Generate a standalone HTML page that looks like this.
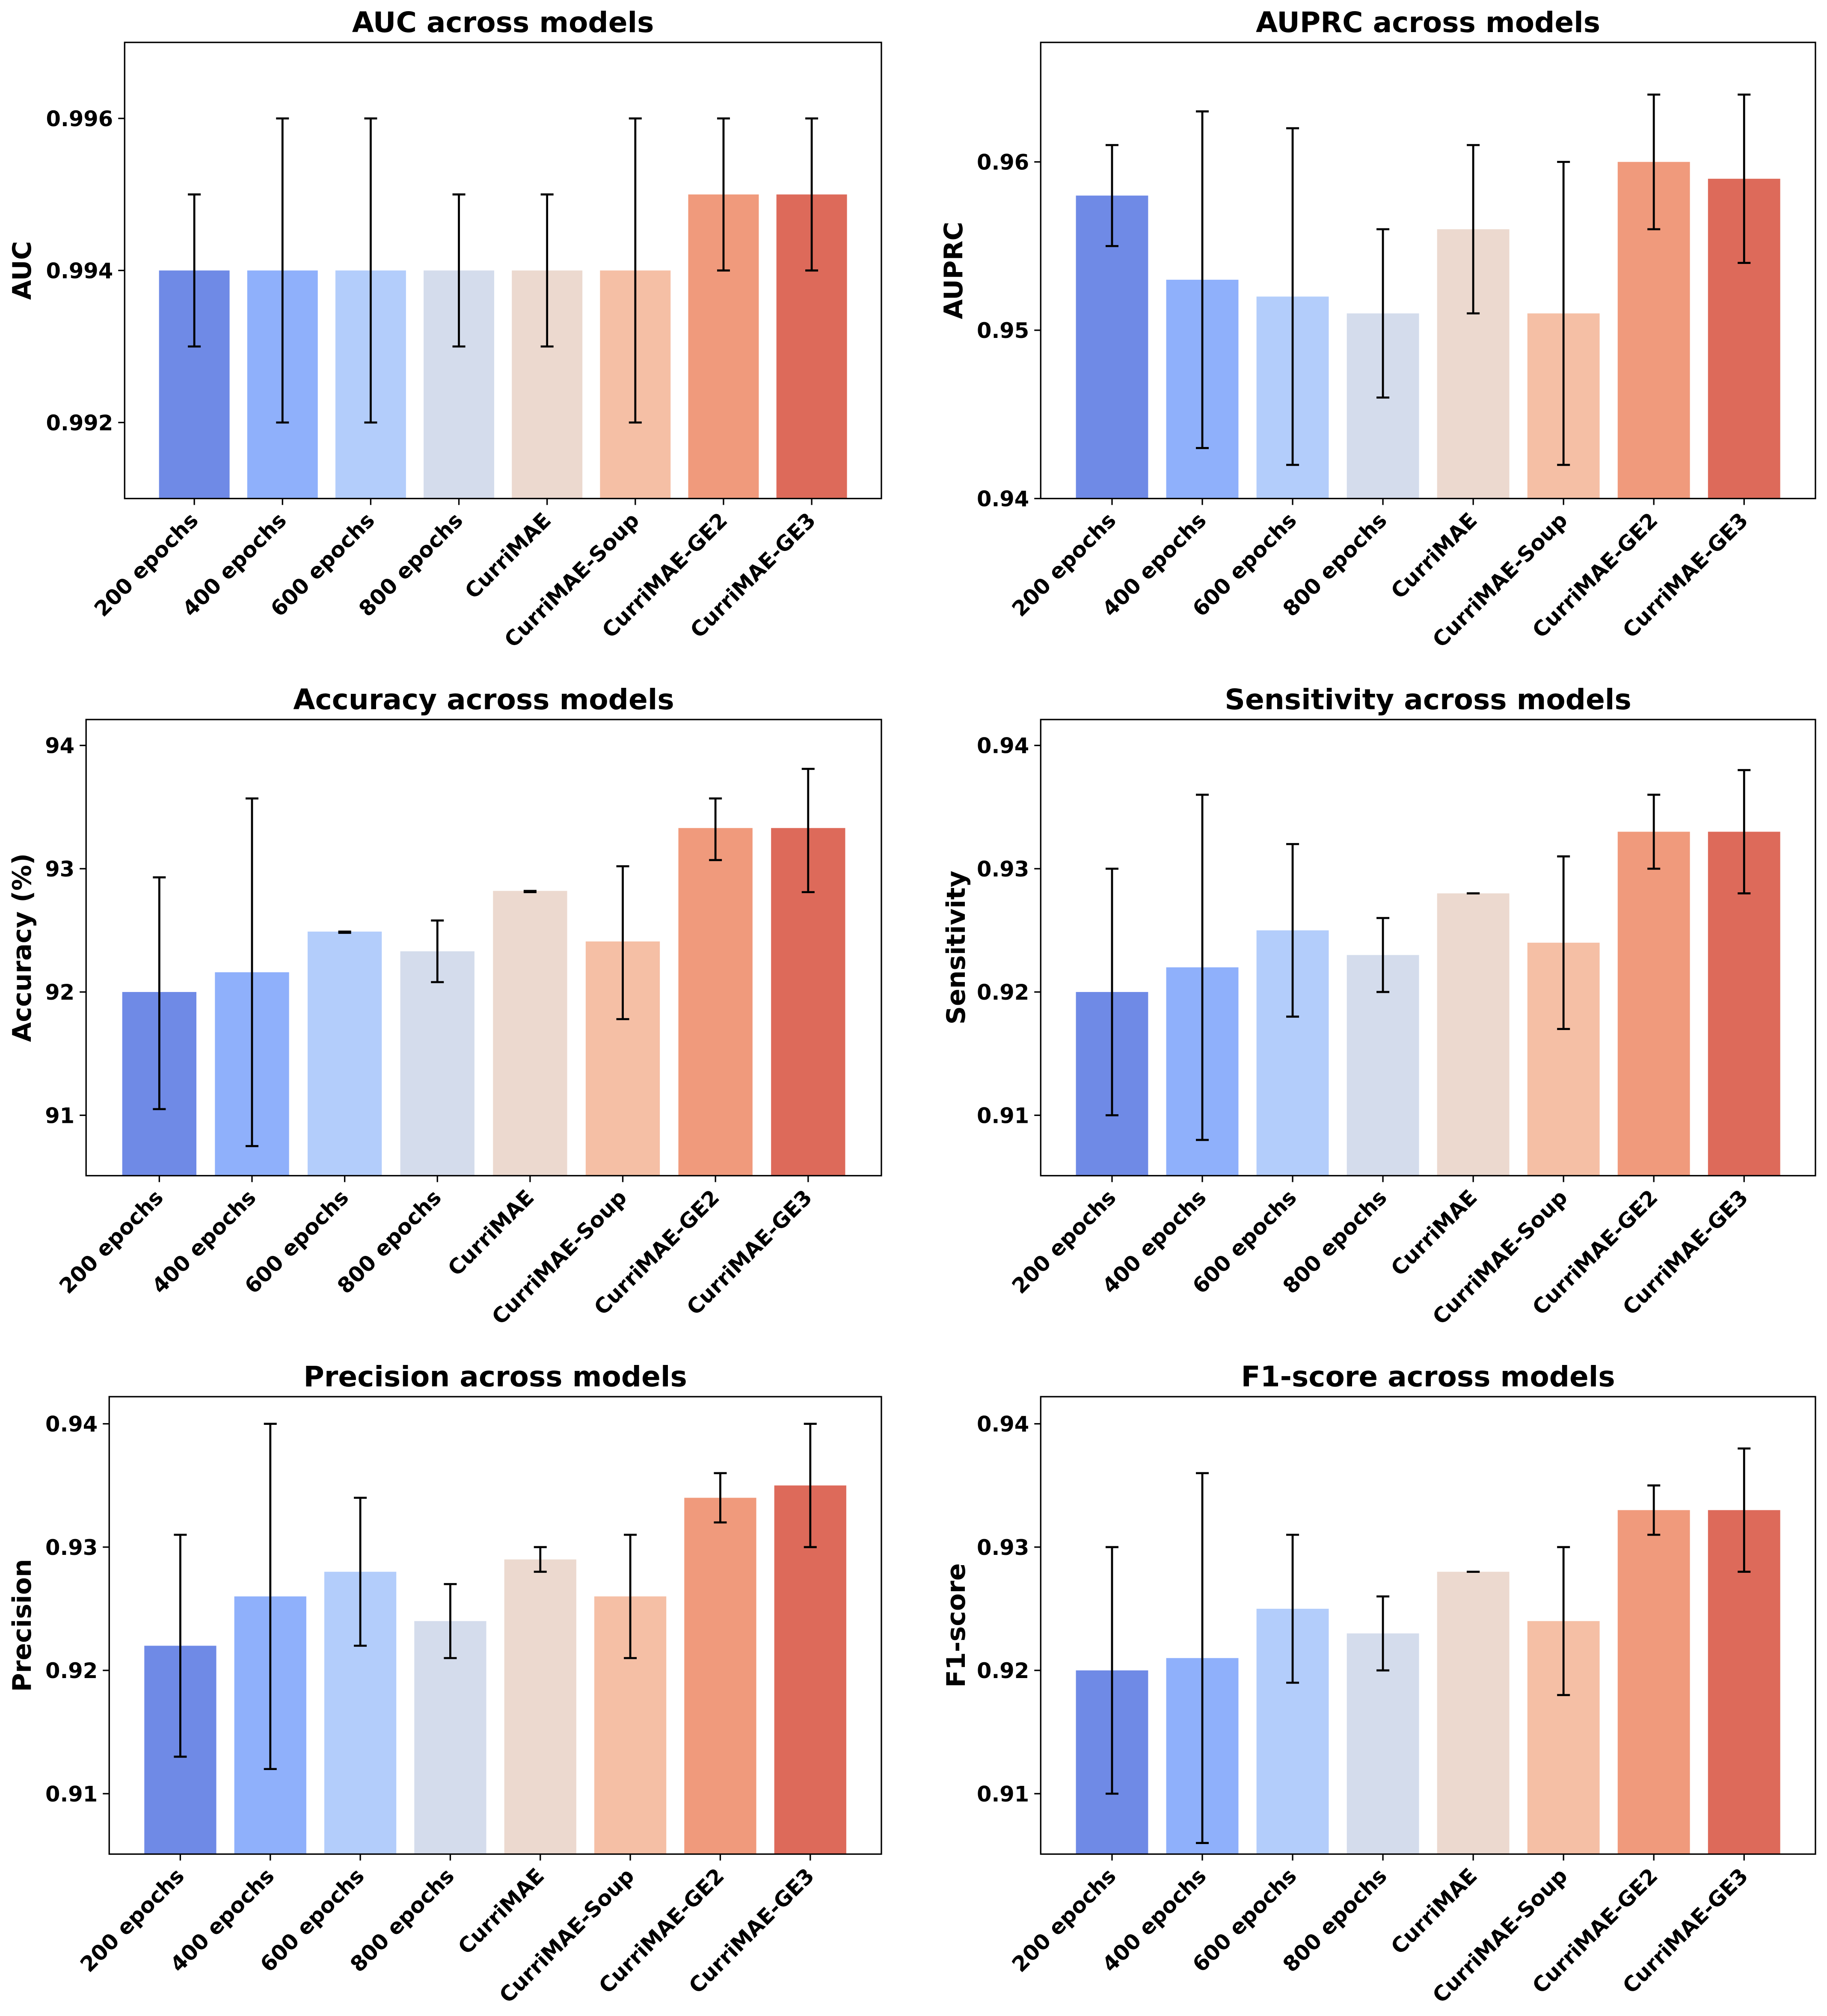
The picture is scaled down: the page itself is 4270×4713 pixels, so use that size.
<!DOCTYPE html>
<html><head><meta charset="utf-8">
<style>
html,body{margin:0;padding:0;background:#fff;}
svg{display:block;}
text{font-family:"DejaVu Sans","Liberation Sans",sans-serif;font-weight:bold;fill:#000;}
</style></head>
<body>
<svg id="fig" width="4270" height="4713" viewBox="0 0 1422 1569" preserveAspectRatio="none" xmlns="http://www.w3.org/2000/svg">
<rect x="0" y="0" width="1422" height="1569" fill="#fff"/>
</svg>
<script>
const categories = ["200 epochs","400 epochs","600 epochs","800 epochs","CurriMAE","CurriMAE-Soup","CurriMAE-GE2","CurriMAE-GE3"];
const colors = ["#6f8ae6","#8fb0fb","#b3cdfb","#d4dcec","#ecd9cf","#f5bfa5","#f09a7c","#dd6a5a"];

const aucValues = [0.994,0.994,0.994,0.994,0.994,0.994,0.995,0.995];
const aucLow    = [0.993,0.992,0.992,0.993,0.993,0.992,0.994,0.994];
const aucHigh   = [0.995,0.996,0.996,0.995,0.995,0.996,0.996,0.996];
const aucTicks  = [0.992,0.994,0.996];

const auprcValues = [0.958,0.953,0.952,0.951,0.956,0.951,0.960,0.959];
const auprcLow    = [0.955,0.943,0.942,0.946,0.951,0.942,0.956,0.954];
const auprcHigh   = [0.961,0.963,0.962,0.956,0.961,0.960,0.964,0.964];
const auprcTicks  = [0.94,0.95,0.96];

const accValues = [92.00,92.16,92.49,92.33,92.82,92.41,93.33,93.33];
const accLow    = [91.05,90.75,92.48,92.08,92.81,91.78,93.07,92.81];
const accHigh   = [92.93,93.57,92.49,92.58,92.82,93.02,93.57,93.81];
const accTicks  = [91,92,93,94];

const sensValues = [0.920,0.922,0.925,0.923,0.928,0.924,0.933,0.933];
const sensLow    = [0.910,0.908,0.918,0.920,0.928,0.917,0.930,0.928];
const sensHigh   = [0.930,0.936,0.932,0.926,0.928,0.931,0.936,0.938];
const sensTicks  = [0.91,0.92,0.93,0.94];

const precValues = [0.922,0.926,0.928,0.924,0.929,0.926,0.934,0.935];
const precLow    = [0.913,0.912,0.922,0.921,0.928,0.921,0.932,0.930];
const precHigh   = [0.931,0.940,0.934,0.927,0.930,0.931,0.936,0.940];
const precTicks  = [0.91,0.92,0.93,0.94];

const f1Values = [0.920,0.921,0.925,0.923,0.928,0.924,0.933,0.933];
const f1Low    = [0.910,0.906,0.919,0.920,0.928,0.918,0.931,0.928];
const f1High   = [0.930,0.936,0.931,0.926,0.928,0.930,0.935,0.938];
const f1Ticks  = [0.91,0.92,0.93,0.94];

const NS="http://www.w3.org/2000/svg";
const svg=document.getElementById('fig');
function mk(tag,attrs,parent){const e=document.createElementNS(NS,tag);for(const k in attrs)e.setAttribute(k,attrs[k]);(parent||svg).appendChild(e);return e;}

function panel(o){
  const g=mk('g',{});
  
  
  const L=o.left,R=o.right,T=o.top,B=o.bottom;
  const xmin=-0.79,xmax=7.79;
  const xs=v=>L+(v-xmin)/(xmax-xmin)*(R-L);
  const ys=v=>B-(v-o.ymin)/(o.ymax-o.ymin)*(B-T);
  const bw=(xs(0.4)-xs(-0.4));
  o.values.forEach((v,i)=>{
    const y=ys(v);
    const r=mk('rect',{x:xs(i)-bw/2,y:y,width:bw,height:B-y,fill:colors[i]},g);
    
    
  });
  o.values.forEach((v,i)=>{
    const x=xs(i),y1=ys(o.low[i]),y2=ys(o.high[i]);
    const eg=mk('g',{stroke:'#000','stroke-width':1.6},g);
    
    
    mk('line',{x1:x,x2:x,y1:y1,y2:y2},eg);
    mk('line',{x1:x-5,x2:x+5,y1:y1,y2:y1},eg);
    mk('line',{x1:x-5,x2:x+5,y1:y2,y2:y2},eg);
  });
  const fr=mk('rect',{x:L,y:T,width:R-L,height:B-T,fill:'none',stroke:'#000','stroke-width':1.1},g);
  
  
  o.ticks.forEach(t=>{
    const y=ys(t);
    mk('line',{x1:L-5,x2:L,y1:y,y2:y,stroke:'#000','stroke-width':1.1},g);
    const tx=mk('text',{x:L-9,y:y+6,'text-anchor':'end','font-size':16.5},g);
    tx.textContent=o.fmt(t);
    
    
  });
  categories.forEach((c,i)=>{
    const x=xs(i);
    mk('line',{x1:x,x2:x,y1:B,y2:B+5,stroke:'#000','stroke-width':1.1},g);
    const tx=mk('text',{x:x+4,y:B+18,'text-anchor':'end','font-size':16.5,transform:`rotate(-45 ${x+4} ${B+18})`},g);
    tx.textContent=c;
    
    
  });
  const ti=mk('text',{x:(L+R)/2,y:T-8,'text-anchor':'middle','font-size':22},g);
  ti.textContent=o.title;
  
  
  const yl=mk('text',{x:o.ylabelX,y:(T+B)/2,'text-anchor':'middle','font-size':20,transform:`rotate(-90 ${o.ylabelX} ${(T+B)/2})`},g);
  yl.textContent=o.ylabel;
  
  
}
const f3=t=>t.toFixed(3), f2=t=>t.toFixed(2), f0=t=>t.toFixed(0);
panel({id:'auc',title:'AUC across models',ylabel:'AUC',values:aucValues,low:aucLow,high:aucHigh,ticks:aucTicks,fmt:f3,left:97,right:686,top:33,bottom:388,ymin:0.991,ymax:0.997,ylabelX:24});
panel({id:'auprc',title:'AUPRC across models',ylabel:'AUPRC',values:auprcValues,low:auprcLow,high:auprcHigh,ticks:auprcTicks,fmt:f2,left:810,right:1413,top:33,bottom:388,ymin:0.94,ymax:0.9671,ylabelX:749});
panel({id:'accuracy',title:'Accuracy across models',ylabel:'Accuracy (%)',values:accValues,low:accLow,high:accHigh,ticks:accTicks,fmt:f0,left:67,right:686,top:560,bottom:915,ymin:90.51,ymax:94.21,ylabelX:24});
panel({id:'sensitivity',title:'Sensitivity across models',ylabel:'Sensitivity',values:sensValues,low:sensLow,high:sensHigh,ticks:sensTicks,fmt:f2,left:810,right:1413,top:560,bottom:915,ymin:0.9051,ymax:0.9421,ylabelX:751});
panel({id:'precision',title:'Precision across models',ylabel:'Precision',values:precValues,low:precLow,high:precHigh,ticks:precTicks,fmt:f2,left:85,right:686,top:1087,bottom:1443,ymin:0.9051,ymax:0.9422,ylabelX:24});
panel({id:'f1',title:'F1-score across models',ylabel:'F1-score',values:f1Values,low:f1Low,high:f1High,ticks:f1Ticks,fmt:f2,left:810,right:1413,top:1087,bottom:1443,ymin:0.9051,ymax:0.9422,ylabelX:751});
</script>
</body></html>
